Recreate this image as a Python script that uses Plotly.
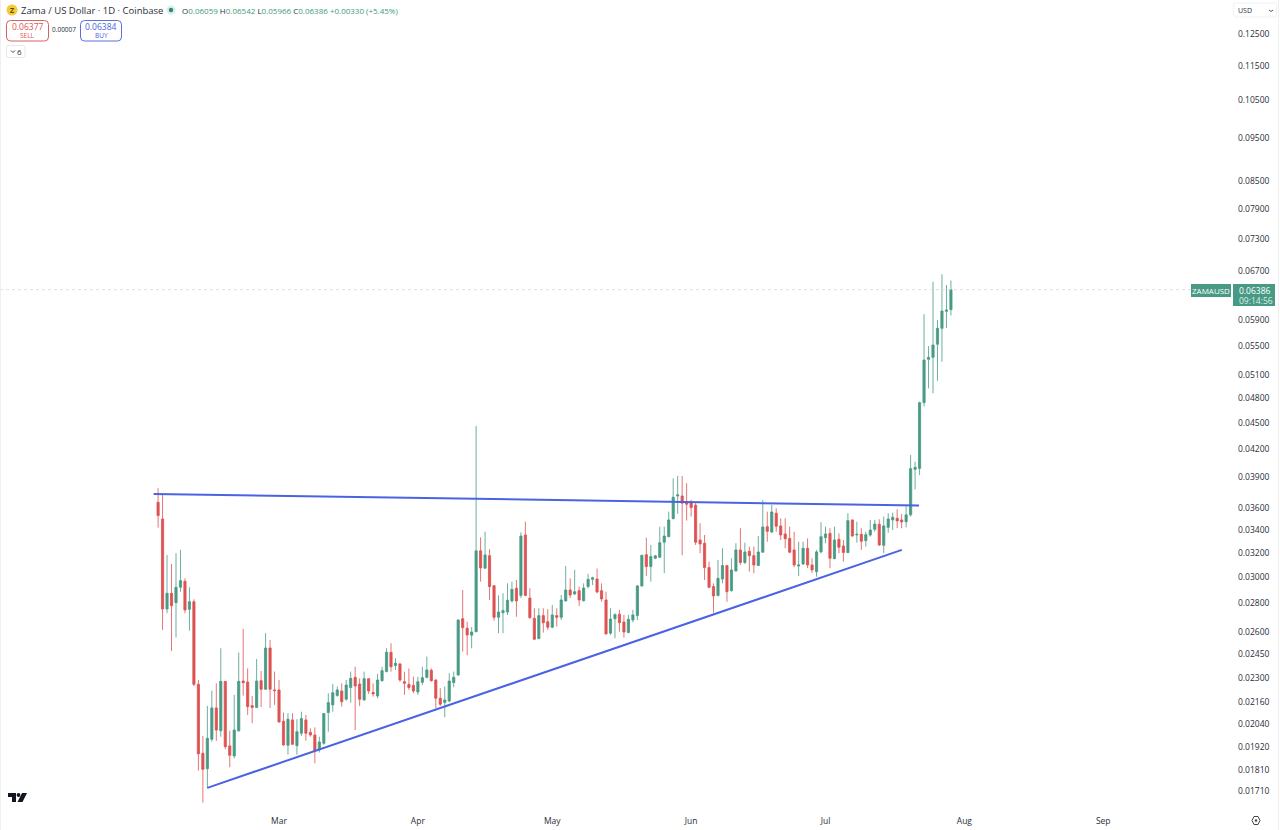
import pandas as pd
import plotly.graph_objects as go

FIRST_DAY = "2026-02-02"

open_ = [
    .03653, .03496, .02760, .02876, .02806, .02922, .02968, .02758, .02813, .02264,
    .01889, .01814, .01960, .02128, .02004, .02282, .01926, .01876, .02004, .02284,
    .02278, .02141, .02131, .02286, .02235, .02491, .02231, .02231, .02055, .01929,
    .02062, .01927, .01991, .02062, .01996, .01982, .01906, .01939, .02102, .02145,
    .02198, .02225, .02177, .02245, .02306, .02266, .02173, .02298, .02217, .02196,
    .02286, .02341, .02463, .02379, .02389, .02280, .02264, .02258, .02219, .02276,
    .02306, .02349, .02290, .02183, .02158, .02167, .02274, .02320, .02690, .02624,
    .02576, .02600, .03215, .03072, .03175, .02934, .02700, .02733, .02738, .02819,
    .02914, .02860, .03352, .02840, .02693, .02553, .02712, .02669, .02631, .02712,
    .02700, .02819, .02901, .02871, .02896, .02821, .02927, .02983, .02986, .02896,
    .02826, .02590, .02690, .02722, .02667, .02594, .02681, .02712, .02932, .03183,
    .03085, .03153, .03161, .03288, .03337, .03499, .03714, .03714, .03659, .03649,
    .03625, .03308, .03280, .03077, .02927, .02860, .02986, .03093, .02896, .03050,
    .03223, .03118, .03212, .03175, .03093, .03204, .03426, .03378, .03549, .03433,
    .03361, .03322, .03223, .03090, .03106, .03237, .03098, .03044, .03206, .03328,
    .03366, .03150, .03314, .03257, .03201, .03487, .03352, .03358, .03302, .03352,
    .03402, .03448, .03262, .03420, .03487, .03502, .03487, .03471, .03534, .03983,
    .03993, .04746, .05318, .05346, .05533, .05769, .06032, .06059,
]
high = [
    .03790, .03724, .03181, .03106, .03195, .03223, .02991, .02922, .02831, .02290,
    .01977, .02139, .02227, .02270, .02489, .02284, .02004, .02202, .02461, .02619,
    .02361, .02196, .02420, .02345, .02590, .02544, .02341, .02290, .02102, .02099,
    .02099, .02066, .02107, .02089, .02017, .02022, .01973, .02099, .02212, .02266,
    .02251, .02270, .02290, .02341, .02371, .02300, .02341, .02300, .02270, .02327,
    .02371, .02489, .02522, .02425, .02393, .02341, .02361, .02310, .02310, .02371,
    .02435, .02361, .02294, .02241, .02251, .02331, .02341, .02686, .02901, .02669,
    .02631, .04464, .03332, .03381, .03229, .02939, .02860, .02876, .02952, .02965,
    .02978, .03375, .03471, .02914, .02765, .02765, .02765, .02758, .02789, .02765,
    .02863, .03090, .02991, .03058, .02927, .02952, .03026, .03004, .03069, .02952,
    .02888, .02765, .02729, .02753, .02717, .02717, .02753, .02939, .03181, .03328,
    .03265, .03181, .03426, .03426, .03564, .03890, .03914, .03914, .03840, .03675,
    .03644, .03457, .03352, .03125, .02952, .03139, .03237, .03098, .03153, .03280,
    .03412, .03285, .03251, .03251, .03343, .03675, .03564, .03627, .03596, .03502,
    .03502, .03426, .03381, .03293, .03293, .03322, .03153, .03223, .03466, .03426,
    .03412, .03426, .03366, .03308, .03549, .03490, .03471, .03412, .03381, .03487,
    .03487, .03493, .03518, .03549, .03555, .03587, .03543, .03618, .04136, .04064,
    .04758, .05989, .05505, .06521, .05896, .06650, .06464, .06542,
]
low = [
    .03417, .02612, .02729, .02472, .02560, .02888, .02729, .02607, .02254, .01805,
    .01659, .01723, .01947, .01951, .01973, .01909, .01821, .01864, .01999, .02198,
    .02089, .02044, .02127, .02133, .02231, .02127, .02145, .02047, .01927, .01882,
    .01931, .01882, .01977, .01953, .01973, .01840, .01893, .01931, .01999, .02107,
    .02192, .02135, .02169, .02158, .02008, .02139, .02169, .02208, .02192, .02183,
    .02280, .02337, .02341, .02351, .02280, .02202, .02231, .02212, .02202, .02260,
    .02300, .02280, .02127, .02139, .02077, .02160, .02247, .02316, .02468, .02444,
    .02489, .02596, .02965, .03066, .02826, .02676, .02590, .02590, .02717, .02806,
    .02704, .02840, .02853, .02688, .02544, .02549, .02594, .02612, .02624, .02635,
    .02681, .02813, .02840, .02863, .02782, .02813, .02914, .02939, .02876, .02813,
    .02580, .02578, .02556, .02600, .02560, .02590, .02665, .02681, .02927, .03010,
    .02965, .03145, .03160, .03032, .03332, .03493, .03543, .03178, .03481, .03518,
    .03265, .03195, .02978, .02914, .02733, .02853, .02952, .02813, .02888, .03044,
    .03098, .03106, .03044, .03032, .03090, .03201, .03293, .03372, .03381, .03308,
    .03237, .03195, .03080, .03010, .03098, .03072, .03032, .03004, .03195, .03280,
    .03072, .03145, .03195, .03125, .03195, .03337, .03285, .03223, .03251, .03337,
    .03381, .03257, .03195, .03372, .03396, .03412, .03412, .03420, .03518, .03780,
    .03924, .04696, .04927, .04865, .05027, .05285, .05772, .05966,
]
close = [
    .03527, .02760, .02876, .02784, .02922, .02973, .02753, .02813, .02264, .01886,
    .01811, .01965, .02128, .02008, .02282, .01922, .01879, .02008, .02282, .02274,
    .02135, .02131, .02284, .02235, .02491, .02235, .02227, .02051, .01931, .02066,
    .01934, .01999, .02069, .01991, .01982, .01902, .01946, .02097, .02158, .02215,
    .02231, .02163, .02260, .02300, .02254, .02177, .02298, .02225, .02208, .02290,
    .02347, .02463, .02371, .02393, .02290, .02270, .02245, .02225, .02280, .02304,
    .02351, .02286, .02183, .02149, .02173, .02284, .02306, .02681, .02628, .02578,
    .02598, .03215, .03074, .03181, .02927, .02700, .02738, .02748, .02824, .02906,
    .02819, .03343, .02860, .02698, .02549, .02712, .02662, .02631, .02717, .02700,
    .02826, .02901, .02863, .02888, .02826, .02916, .02983, .02996, .02886, .02833,
    .02585, .02688, .02719, .02662, .02598, .02686, .02717, .02932, .03178, .03085,
    .03167, .03173, .03285, .03343, .03487, .03701, .03724, .03644, .03634, .03602,
    .03288, .03274, .03077, .02922, .02856, .02991, .03093, .02888, .03058, .03223,
    .03118, .03206, .03175, .03098, .03206, .03423, .03384, .03561, .03430, .03352,
    .03319, .03204, .03098, .03098, .03237, .03098, .03058, .03206, .03337, .03361,
    .03153, .03308, .03246, .03201, .03481, .03343, .03358, .03297, .03355, .03396,
    .03450, .03265, .03433, .03496, .03512, .03478, .03469, .03534, .03990, .04004,
    .04746, .05308, .05346, .05522, .05769, .06037, .06053, .06386,
]

resistance_x = ["2026-02-01", "2026-07-21 21:00"]
resistance_y = [.03733, .03622]
support_x = ["2026-02-13", "2026-07-18 01:00"]
support_y = [.01725, .03223]

month_ticks = ["2026-03-01", "2026-04-01", "2026-05-01", "2026-06-01", "2026-07-01", "2026-08-01", "2026-09-01"]
month_labels = ["Mar", "Apr", "May", "Jun", "Jul", "Aug", "Sep"]
price_ticks = [.125, .115, .105, .095, .085, .079, .073, .067, .059, .055, .051, .048, .045, .042,
               .039, .036, .034, .032, .03, .028, .026, .0245, .023, .0216, .0204, .0192, .0181, .0171]
last_price = .06386

GREEN = "#489a84"
RED = "#de5252"
BLUE = "#4a63e2"
TEXT = "#2a2e39"
FONT = "Open Sans"

PLOT_W = 1232
PLOT_H = 808


def px(x):
    return x / PLOT_W


def py(y):
    return 1 - y / PLOT_H


def label(x, y, text, size=8.5, color=TEXT, anchor="left"):
    return dict(xref="paper", yref="paper", x=px(x), y=py(y), text=text, showarrow=False,
                xanchor=anchor, yanchor="middle", borderpad=0,
                font=dict(family=FONT, size=size, color=color))


def rounded(x0, y0, x1, y1, r, line, fill="rgba(255,255,255,0)", width=1):
    path = (f"M {px(x0 + r)} {py(y0)} L {px(x1 - r)} {py(y0)} Q {px(x1)} {py(y0)} {px(x1)} {py(y0 + r)} "
            f"L {px(x1)} {py(y1 - r)} Q {px(x1)} {py(y1)} {px(x1 - r)} {py(y1)} "
            f"L {px(x0 + r)} {py(y1)} Q {px(x0)} {py(y1)} {px(x0)} {py(y1 - r)} "
            f"L {px(x0)} {py(y0 + r)} Q {px(x0)} {py(y0)} {px(x0 + r)} {py(y0)} Z")
    return dict(type="path", xref="paper", yref="paper", path=path, fillcolor=fill,
                line=dict(color=line, width=width))


def dot(cx, cy, r, color):
    return dict(type="circle", xref="paper", yref="paper", x0=px(cx - r), x1=px(cx + r),
                y0=py(cy + r), y1=py(cy - r), fillcolor=color, line=dict(width=0))


def polyline(points, color, width=1, fill="rgba(255,255,255,0)", closed=False):
    path = "M " + " L ".join(f"{px(x)} {py(y)}" for x, y in points) + (" Z" if closed else "")
    return dict(type="path", xref="paper", yref="paper", path=path, fillcolor=fill,
                line=dict(color=color, width=width))


days = pd.date_range(FIRST_DAY, periods=len(close), freq="D")

fig = go.Figure()
fig.add_trace(go.Candlestick(
    x=days, open=open_, high=high, low=low, close=close, whiskerwidth=0,
    increasing=dict(line=dict(color=GREEN, width=0.8), fillcolor=GREEN),
    decreasing=dict(line=dict(color=RED, width=0.8), fillcolor=RED),
    hoverinfo="skip",
))
for xs, ys in [(resistance_x, resistance_y), (support_x, support_y)]:
    fig.add_trace(go.Scatter(x=xs, y=ys, mode="lines", line=dict(color=BLUE, width=2), hoverinfo="skip"))

shapes = [
    dict(type="line", xref="paper", yref="y", x0=0, x1=1, y0=last_price, y1=last_price,
         line=dict(color="#d6d8dd", width=0.8, dash="dot")),
    polyline([(0.5, 0), (0.5, 830)], "#f0f0f0"),
    polyline([(1278.5, 0), (1278.5, 830)], "#f0f0f0"),
    dot(12, 10, 5.5, "#f5c93a"),
    dot(171, 10, 4.5, "#d8efe8"),
    dot(171, 10, 2.2, "#2f8a72"),
    rounded(6.5, 20.5, 48.5, 41, 4, "#d9605f"),
    rounded(80.5, 20.5, 121.5, 41, 4, "#5a6fe0"),
    rounded(6.5, 45.5, 25, 57.5, 2, "#e8e8ea"),
    polyline([(11, 50.5), (13, 52.5), (15, 50.5)], "#444444"),
    rounded(1233.5, 3, 1276.5, 17, 2, "#f2f2f4"),
    polyline([(1269, 10), (1271, 11.5), (1273, 10)], "#555555"),
    dict(type="rect", xref="paper", yref="paper", x0=px(1191), x1=px(1231), y0=py(297), y1=py(284),
         fillcolor=GREEN, line=dict(width=0)),
    dict(type="rect", xref="paper", yref="paper", x0=px(1233), x1=px(1275), y0=py(306), y1=py(284),
         fillcolor=GREEN, line=dict(width=0)),
    # TradingView mark
    polyline([(8, 793), (16, 793), (16, 802), (12, 802), (12, 797), (8, 797)], "#131722", 0, "#131722", True),
    dot(18.5, 795, 1.9, "#131722"),
    polyline([(22, 793), (27, 793), (22.5, 802), (17.5, 802)], "#131722", 0, "#131722", True),
    # settings icon
    polyline([(1252, 820.5), (1254, 816.5), (1258, 816.5), (1260, 820.5), (1258, 824.5), (1254, 824.5)],
             "#444444", 1, closed=True),
    dot(1256, 820.5, 1.2, "#444444"),
]

legend_text = (
    f'<span style="color:{TEXT}">O</span>0.06059 <span style="color:{TEXT}">H</span>0.06542 '
    f'<span style="color:{TEXT}">L</span>0.05966 <span style="color:{TEXT}">C</span>0.06386 +0.00330 (+5.45%)'
)
annotations = [
    label(12, 10, "<b>Z</b>", 7, "#5a4a00", "center"),
    label(19.5, 10, "Zama / US Dollar · 1D · Coinbase", 9.5),
    label(181, 10, legend_text, 8, "#3f9a80"),
    label(27.5, 26, "0.06377", 8.5, "#d9534f", "center"),
    label(27.5, 35, "SELL", 6.5, "#d9534f", "center"),
    label(64, 29.5, "0.00007", 6.5, TEXT, "center"),
    label(101, 26, "0.06384", 8.5, "#4a63e2", "center"),
    label(101, 35, "BUY", 6.5, "#4a63e2", "center"),
    label(20, 51.5, "6", 8, TEXT, "center"),
    label(1237, 10, "USD", 7, TEXT),
    label(1211, 290.5, "ZAMAUSD", 8, "#ffffff", "center"),
    label(1238, 290.5, "0.06386", 8.5, "#ffffff"),
    label(1238, 300, "09:14:56", 8.5, "#d8efe8"),
]

fig.update_layout(
    width=1280, height=830,
    margin=dict(l=0, r=48, t=0, b=22),
    paper_bgcolor="#ffffff", plot_bgcolor="#ffffff",
    showlegend=False,
    font=dict(family=FONT, size=8.5, color=TEXT),
    shapes=shapes,
    annotations=annotations,
    xaxis=dict(
        type="date",
        range=["2025-12-28 17:00", "2026-09-29 18:00"],
        rangeslider=dict(visible=False),
        showgrid=False, zeroline=False, showline=False, ticks="",
        tickmode="array", tickvals=month_ticks, ticktext=month_labels,
        ticklabelstandoff=6,
        tickfont=dict(family=FONT, size=8.5, color=TEXT),
    ),
    yaxis=dict(
        type="log",
        side="right",
        range=[-1.78622, -0.86426],
        showgrid=False, zeroline=False, showline=False, ticks="",
        tickmode="array", tickvals=price_ticks,
        ticktext=[f"{v:.5f}" for v in price_ticks],
        ticklabelstandoff=5,
        tickfont=dict(family=FONT, size=8.5, color=TEXT),
    ),
)

fig.write_html(
    "out.html",
    config=dict(displayModeBar=False),
    post_script="document.body.style.margin='0';document.body.style.overflow='hidden';",
)
